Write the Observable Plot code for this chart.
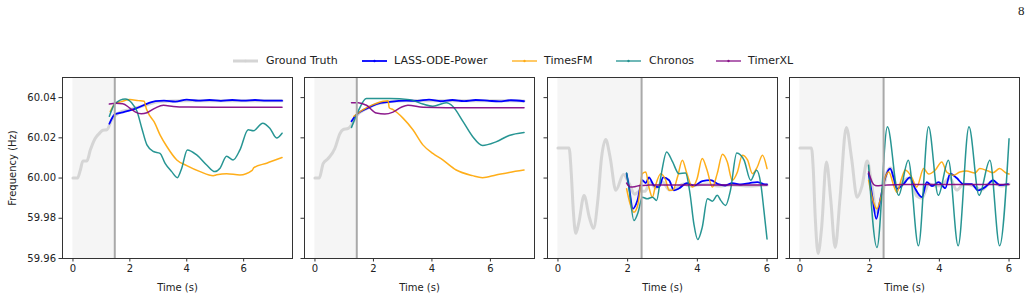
<!DOCTYPE html>
<html>
<head>
<meta charset="utf-8">
<script src="https://cdn.jsdelivr.net/npm/d3@7"></script>
<script src="https://cdn.jsdelivr.net/npm/@observablehq/plot@0.6"></script>
<style>
  html, body { margin: 0; padding: 0; background: #fff; }
  #fig { position: relative; width: 1034px; height: 298px; overflow: hidden; font-family: "DejaVu Sans", sans-serif; color: #222; }
  .panel { position: absolute; top: 70px; }
  .legend-line { position: absolute; top: 56px; }
  .legend-text { position: absolute; top: 54px; font-size: 11px; line-height: 14px; white-space: nowrap; }
  #pagenum { position: absolute; left: 1018px; top: 3px; font-family: "Liberation Serif", "DejaVu Serif", serif; font-size: 13px; color: #222; }
</style>
</head>
<body>
<div id="fig">
  <div id="pagenum">8</div>
</div>
<script>
// Shared axes
const yDomain = [59.96, 60.05];
const yTicks = [59.96, 59.98, 60.00, 60.02, 60.04];
const xTicks = [0, 2, 4, 6];

// Series names and colours
const seriesNames = ["Ground Truth", "LASS-ODE-Power", "TimesFM", "Chronos", "TimerXL"];
const seriesColors = ["#d3d3d3", "#0000ff", "#ffa500", "#108a87", "#800080"];

// Panel 1: [time (s), frequency (Hz)]
const p1Truth = [[0,60.000],[0.16,60.000],[0.26,60.004],[0.35,60.0085],[0.49,60.0085],[0.61,60.0139],[0.78,60.0197],[0.93,60.0222],[1.05,60.0238],[1.19,60.024],[1.36,60.0289],[1.48,60.031],[1.7,60.033],[2.0,60.034],[2.5,60.036],[3.0,60.038],[4.0,60.0385],[5.0,60.0385],[6.0,60.0385],[7.35,60.0385]];
const p1Lass = [[1.28,60.027],[1.48,60.0318],[1.7,60.0325],[1.9,60.0333],[2.2,60.0345],[2.48,60.0362],[2.7,60.0375],[2.9,60.0383],[3.2,60.0385],[3.6,60.038],[4.0,60.039],[4.4,60.0385],[4.8,60.0388],[5.2,60.0384],[5.6,60.0388],[6.0,60.0385],[6.4,60.0388],[6.8,60.0385],[7.35,60.0385]];
const p1TimesFM = [[1.31,60.033],[1.48,60.037],[1.7,60.038],[2.0,60.039],[2.3,60.0385],[2.5,60.0382],[2.58,60.0345],[2.7,60.031],[2.85,60.028],[3.06,60.0215],[3.3,60.0157],[3.65,60.009],[4.0,60.0062],[4.47,60.0032],[4.93,60.0012],[5.05,60.0016],[5.4,60.0022],[5.87,60.0015],[6.3,60.0038],[6.36,60.0052],[6.81,60.0074],[7.35,60.0102]];
const p1Chronos = [[1.28,60.0307],[1.48,60.037],[1.84,60.0393],[2.07,60.0373],[2.25,60.0332],[2.42,60.0248],[2.6,60.0165],[2.83,60.0132],[3.06,60.0123],[3.24,60.0073],[3.47,60.0032],[3.67,60.0002],[3.82,60.0048],[4.02,60.014],[4.35,60.0115],[4.7,60.0065],[4.99,60.0032],[5.17,60.0049],[5.4,60.0108],[5.63,60.009],[5.87,60.014],[6.16,60.024],[6.34,60.0235],[6.67,60.0273],[6.92,60.0248],[7.16,60.0199],[7.35,60.0223]];
const p1TimerXL = [[1.28,60.0368],[1.5,60.0372],[1.75,60.037],[2.0,60.0348],[2.2,60.0328],[2.4,60.032],[2.6,60.0325],[2.89,60.0348],[3.18,60.0362],[3.53,60.0356],[4.0,60.0353],[5.0,60.0352],[6.0,60.0352],[7.35,60.0352]];

// Panel 2
const p2Truth = [[0,60.000],[0.15,60.000],[0.28,60.0072],[0.45,60.0097],[0.68,60.0147],[0.85,60.022],[0.95,60.024],[1.14,60.0247],[1.25,60.0264],[1.43,60.031],[1.76,60.0345],[2.1,60.0368],[2.56,60.038],[3.1,60.0385],[4.0,60.0385],[5.0,60.0385],[6.0,60.0385],[7.15,60.0383]];
const p2Lass = [[1.25,60.0282],[1.42,60.0315],[1.76,60.0345],[2.1,60.0368],[2.56,60.0379],[3.12,60.0385],[3.5,60.0384],[3.9,60.039],[4.3,60.0382],[4.7,60.0388],[5.1,60.0383],[5.5,60.0388],[5.9,60.0385],[6.3,60.0381],[6.7,60.0387],[7.15,60.0382]];
const p2TimesFM = [[1.33,60.0307],[1.65,60.034],[1.99,60.0365],[2.33,60.0382],[2.5,60.0385],[2.54,60.035],[2.67,60.034],[3.01,60.0298],[3.35,60.024],[3.69,60.0165],[4.03,60.0123],[4.37,60.009],[4.83,60.004],[5.39,60.0012],[5.73,60.0002],[6.19,60.0015],[6.64,60.0028],[7.15,60.004]];
const p2Chronos = [[1.25,60.0252],[1.48,60.0333],[1.76,60.0395],[2.56,60.0395],[3.24,60.039],[3.69,60.0368],[4.03,60.0357],[4.49,60.0374],[4.71,60.0357],[5.06,60.0282],[5.39,60.0207],[5.73,60.0162],[6.19,60.018],[6.64,60.0212],[7.15,60.0227]];
const p2TimerXL = [[1.25,60.0374],[1.48,60.0375],[1.76,60.0362],[2.1,60.0323],[2.39,60.0318],[2.67,60.0328],[2.95,60.0352],[3.18,60.0362],[3.7,60.0352],[4.5,60.035],[5.5,60.035],[7.15,60.035]];

// Panel 3
const p3Truth = [[0,60.015],[0.32,60.015],[0.38,60.003],[0.44,59.984],[0.51,59.9725],[0.6,59.978],[0.75,59.9913],[0.9,59.9805],[1.02,59.975],[1.15,59.99],[1.25,60.01],[1.37,60.0192],[1.5,60.01],[1.66,59.9939],[1.88,60.0018],[2.05,59.997],[2.2,59.992],[2.35,59.9935],[2.5,59.9935],[2.65,59.998],[2.8,59.995],[3.0,59.998],[3.2,59.994],[3.4,59.995],[3.6,59.997],[3.8,59.996],[4.0,59.9965],[4.3,59.997],[4.6,59.996],[5.0,59.9965],[5.5,59.996],[6.0,59.9965]];
const p3Lass = [[1.97,60.0022],[2.04,59.9955],[2.15,59.9847],[2.28,59.9888],[2.42,59.9989],[2.52,59.9975],[2.61,60.0003],[2.76,59.9962],[2.9,59.9955],[3.02,60.0003],[3.19,59.9989],[3.33,59.9939],[3.47,59.9948],[3.7,59.9975],[3.9,59.9962],[4.14,59.9985],[4.38,59.999],[4.6,59.997],[4.8,59.9963],[5.0,59.9975],[5.25,59.9968],[5.5,59.9975],[5.72,59.998],[5.9,59.997],[6.0,59.9968]];
const p3TimesFM = [[1.97,59.9947],[2.07,59.9872],[2.18,59.983],[2.3,59.9872],[2.42,60.0022],[2.52,60.003],[2.61,59.9955],[2.71,59.9905],[2.8,59.9963],[2.95,60.0022],[3.09,59.999],[3.19,59.9939],[3.3,59.994],[3.43,60.0005],[3.57,60.0089],[3.7,60.0022],[3.86,59.9955],[3.99,59.9995],[4.14,60.0097],[4.28,60.0039],[4.43,59.9955],[4.57,60.0022],[4.72,60.0118],[4.86,60.008],[5.0,59.9989],[5.15,60.003],[5.29,60.0114],[5.44,60.009],[5.58,60.0022],[5.72,60.0055],[5.87,60.0114],[6.0,60.0047]];
const p3Chronos = [[1.97,60.0025],[2.04,59.9947],[2.18,59.9789],[2.3,59.983],[2.42,59.9905],[2.56,59.9897],[2.71,59.9905],[2.83,59.9889],[2.95,60.0005],[3.12,60.013],[3.29,60.008],[3.47,60.0022],[3.66,60.0025],[3.79,59.9922],[3.9,59.9772],[4.01,59.9694],[4.14,59.9755],[4.29,59.9897],[4.43,59.9885],[4.57,59.9914],[4.67,59.9889],[4.81,59.9864],[4.95,59.9939],[5.13,60.0125],[5.34,60.0089],[5.53,59.9989],[5.7,60.0039],[5.82,59.9972],[5.91,59.9839],[6.0,59.9697]];
const p3TimerXL = [[1.97,59.9975],[2.08,59.9955],[2.2,59.9957],[2.35,59.9963],[2.6,59.9965],[3.0,59.9966],[4.0,59.9966],[5.0,59.9965],[6.0,59.9965]];

// Panel 4
const p4Truth = [[0,60.015],[0.33,60.015],[0.38,60.005],[0.44,59.98],[0.52,59.9625],[0.62,59.975],[0.76,60.008],[0.88,59.99],[1.01,59.9655],[1.15,59.99],[1.33,60.0252],[1.48,60.01],[1.64,59.9905],[1.78,59.996],[1.93,60.0085],[2.05,59.998],[2.2,59.983],[2.35,59.99],[2.5,60.003],[2.6,60.005],[2.8,59.995],[3.0,59.999],[3.15,60.0],[3.35,59.991],[3.5,59.99],[3.7,59.997],[3.9,59.996],[4.1,59.997],[4.3,60.0],[4.5,59.994],[4.7,59.997],[5.0,59.996],[5.2,59.994],[5.5,59.998],[5.8,59.996],[6.0,59.997]];
const p4Lass = [[1.97,60.0022],[2.07,59.9914],[2.19,59.9797],[2.3,59.9889],[2.45,60.0003],[2.59,60.0047],[2.69,60.0],[2.78,59.9947],[2.97,59.997],[3.16,60.0003],[3.3,59.995],[3.5,59.9905],[3.64,59.998],[3.79,59.996],[3.98,59.998],[4.17,59.995],[4.31,60.0022],[4.5,60.0],[4.69,59.997],[4.93,59.997],[5.11,59.9939],[5.35,59.996],[5.54,59.9989],[5.73,59.9965],[5.97,59.997]];
const p4TimesFM = [[1.97,59.9989],[2.11,59.988],[2.21,59.9847],[2.3,59.9889],[2.45,60.0005],[2.55,60.003],[2.69,59.9963],[2.78,59.993],[2.92,60.0],[3.02,60.004],[3.21,60.0003],[3.35,59.9955],[3.55,60.0047],[3.69,60.002],[3.88,60.0039],[4.07,60.008],[4.21,60.003],[4.4,60.0014],[4.59,60.003],[4.78,60.0035],[5.02,60.0025],[5.16,60.0047],[5.4,60.0035],[5.54,60.0027],[5.73,60.0047],[5.92,60.0025],[6.0,60.002]];
const p4Chronos = [[1.97,60.0064],[2.21,59.9655],[2.51,60.0255],[2.83,59.9914],[3.11,60.0089],[3.4,59.9663],[3.69,60.0255],[3.97,59.9914],[4.26,60.0089],[4.54,59.9663],[4.85,60.0255],[5.14,59.9914],[5.45,60.0089],[5.73,59.9663],[6.0,60.0195]];
const p4TimerXL = [[1.97,60.003],[2.07,59.998],[2.16,59.9963],[2.26,59.9962],[2.5,59.9966],[3.0,59.9968],[4.0,59.9968],[5.0,59.9968],[6.0,59.9968]];

// Forecast horizon start and series end time per panel
const horizons = [1.47, 1.43, 2.4, 2.4];
const endTimes = [7.35, 7.15, 6.0, 6.0];

const panels = [
  [p1Truth, p1Lass, p1TimesFM, p1Chronos, p1TimerXL],
  [p2Truth, p2Lass, p2TimesFM, p2Chronos, p2TimerXL],
  [p3Truth, p3Lass, p3TimesFM, p3Chronos, p3TimerXL],
  [p4Truth, p4Lass, p4TimesFM, p4Chronos, p4TimerXL]
];

const widths = [3, 1.8, 1.5, 1.5, 1.5];
const opacities = [0.95, 1, 0.9, 0.9, 0.9];

const fig = document.getElementById("fig");
const frameW = 230, firstLeft = 62, step = 242.33;

panels.forEach((series, i) => {
  const first = i === 0;
  const ml = first ? 62 : 14;
  const mr = 6;
  const pad = 0.05 * endTimes[i];
  const lineMarks = series.map((data, k) => Plot.line(data, {
    x: d => d[0], y: d => d[1],
    stroke: seriesColors[k],
    strokeWidth: widths[k],
    strokeOpacity: opacities[k],
    curve: "monotone-x"
  }));
  const chart = Plot.plot({
    width: ml + frameW + mr,
    height: 228,
    marginLeft: ml, marginRight: mr, marginTop: 7, marginBottom: 40,
    x: {domain: [-pad, endTimes[i] + pad]},
    y: {domain: yDomain},
    style: {fontFamily: "DejaVu Sans", fontSize: "10px", color: "#222", background: "none", overflow: "visible"},
    marks: [
      Plot.rect([{start: 0, end: horizons[i]}], {x1: "start", x2: "end", fill: "#f5f5f5"}),
      ...lineMarks,
      Plot.ruleX([horizons[i]], {stroke: "#a9a9a9", strokeWidth: 2}),
      Plot.frame({stroke: "#333", strokeWidth: 1}),
      Plot.axisX({ticks: xTicks, tickSize: 3.5, tickPadding: 3, stroke: "#333", tickFormat: d3.format("d"),
        label: "Time (s)", labelAnchor: "center", labelArrow: "none", labelOffset: 32}),
      first
        ? Plot.axisY({ticks: yTicks, tickSize: 3.5, tickPadding: 3, stroke: "#333", tickFormat: d3.format(".2f"),
            label: "Frequency (Hz)", labelAnchor: "center", labelArrow: "none", labelOffset: 54})
        : Plot.axisY({ticks: yTicks, tickSize: 3.5, stroke: "#333", tickFormat: () => "", label: null})
    ]
  });
  const holder = document.createElement("div");
  holder.className = "panel";
  holder.style.left = (firstLeft + step * i - ml) + "px";
  holder.appendChild(chart);
  fig.appendChild(holder);
});

// Legend row above the panels: handle start and label start for each entry
const legendLineLefts = [233, 362, 512, 616, 716];
const legendTextLefts = [266, 394, 544, 649, 748];
seriesNames.forEach((name, k) => {
  const line = document.createElement("div");
  line.className = "legend-line";
  line.style.left = legendLineLefts[k] + "px";
  const op = k >= 2 ? 0.8 : opacities[k];
  line.innerHTML =
    `<svg width="25" height="10" style="display:block"><line x1="0" x2="25" y1="5" y2="5" stroke="${seriesColors[k]}" stroke-opacity="${op}" stroke-width="${widths[k]}"/>` +
    `<circle cx="12.5" cy="5" r="1.2" fill="${seriesColors[k]}" fill-opacity="${op}"/></svg>`;
  fig.appendChild(line);
  const text = document.createElement("div");
  text.className = "legend-text";
  text.style.left = legendTextLefts[k] + "px";
  text.textContent = name;
  fig.appendChild(text);
});
</script>
</body>
</html>
